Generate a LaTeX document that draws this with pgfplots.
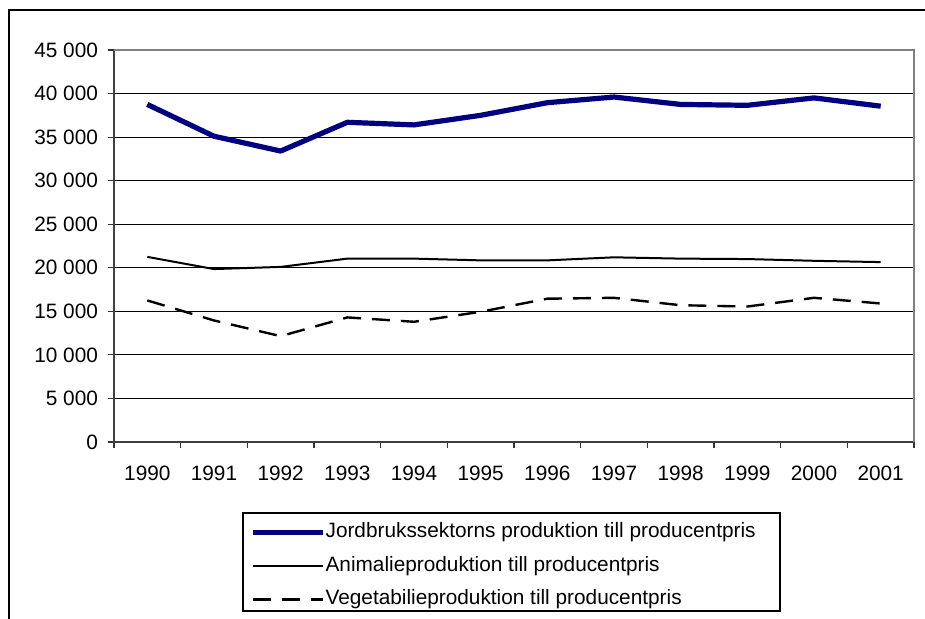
\documentclass[border=0pt]{standalone}
\usepackage{pgfplots}
\pgfplotsset{compat=1.18}
\usepackage{fontspec}
\setmainfont{Liberation Sans}
\definecolor{navyline}{RGB}{0,0,128}
\begin{document}
\begin{tikzpicture}[x=1pt,y=1pt]
\useasboundingbox (0,0) rectangle (462.5,309.5);
\draw[line width=0.7pt] (4.5,0) -- (4.5,304.5) -- (462.5,304.5);
\draw[line width=0.6pt] (121.5,4) rectangle (390,53);
\begin{axis}[
  at={(57pt,88.5pt)}, anchor=south west,
  scale only axis, width=400pt, height=196pt,
  xmin=-0.5, xmax=11.5, ymin=0, ymax=45000,
  scaled y ticks=false,
  xtick={-0.5,0.5,...,11.5}, xticklabels={},
  extra x ticks={0,1,2,3,4,5,6,7,8,9,10,11},
  extra x tick labels={1990,1991,1992,1993,1994,1995,1996,1997,1998,1999,2000,2001},
  extra x tick style={major tick length=0pt, grid=none},
  ytick={0,5000,10000,15000,20000,25000,30000,35000,40000,45000},
  yticklabels={0,5 000,10 000,15 000,20 000,25 000,30 000,35 000,40 000,45 000},
  xtick pos=bottom, ytick pos=left,
  tick align=outside, major tick length=3pt,
  tick style={black!80, line width=0.6pt},
  ymajorgrids, grid style={black, line width=0.5pt},
  axis line style={black!75, line width=1pt},
  tick label style={font=\fontsize{10.4}{12}\selectfont},
  y tick label style={xshift=-1.5pt},
  x tick label style={yshift=-8.5pt},
  legend style={draw=none, fill=none, at={(axis description cs:0.17,-0.2046)}, anchor=north west,
    inner sep=0pt, row sep=6.75pt,
    nodes={inner xsep=0pt, inner ysep=0pt, text height=7.5pt, text depth=2.5pt, font=\fontsize{10.4}{12}\selectfont},
    /tikz/every even column/.append style={column sep=-1.5pt}},
  legend cell align=left,
  legend image code/.code={\draw[#1] (0pt,0pt) -- (35pt,0pt);},
  no markers,
]
\addplot[navyline, line width=2.6pt, line join=round] coordinates {
(0,38750) (1,35100) (2,33400) (3,36700) (4,36400) (5,37500) (6,38950) (7,39600) (8,38750) (9,38650) (10,39500) (11,38550)};
\addlegendentry{Jordbrukssektorns produktion till producentpris}
\addplot[black, line width=1pt, line join=round] coordinates {
(0,21250) (1,19850) (2,20100) (3,21050) (4,21050) (5,20850) (6,20850) (7,21200) (8,21050) (9,21000) (10,20800) (11,20650)};
\addlegendentry{Animalieproduktion till producentpris}
\addplot[black, line width=1.2pt, dash pattern=on 9pt off 5.5pt] coordinates {
(0,16250) (1,13950) (2,12150) (3,14300) (4,13800) (5,14950) (6,16450) (7,16550) (8,15700) (9,15550) (10,16550) (11,15900)};
\addlegendentry{Vegetabilieproduktion till producentpris}
\end{axis}
\draw[black!50, line width=1.1pt] (57,284.5) -- (457,284.5) -- (457,88.5);
\end{tikzpicture}
\end{document}
